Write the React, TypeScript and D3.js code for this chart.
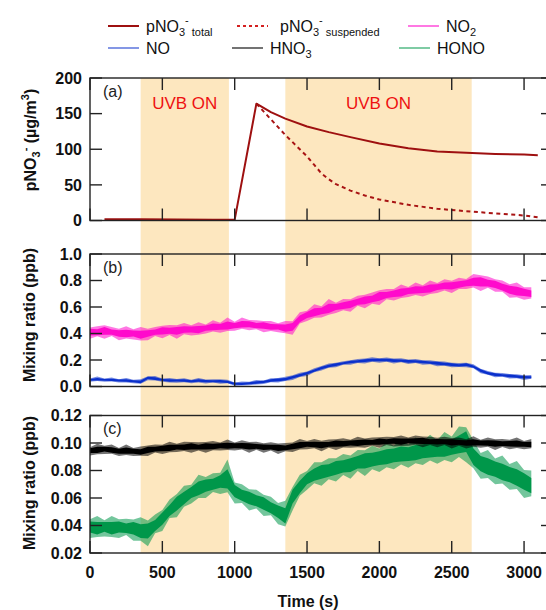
import React from "react";
import * as d3 from "d3";

// ---------- Panel (a): particulate nitrate (µg/m3) ----------
const pTotalTime = [100, 350, 600, 850, 1000, 1150, 1250, 1350, 1500, 1650, 1800, 2000, 2200, 2400, 2600, 2800, 3000, 3095];
const pTotalVal = [1.8, 1.6, 1.4, 1.2, 1.2, 164, 152, 143, 132, 124, 117, 108, 101.5, 97, 95, 93.5, 92.5, 91.5];
const pSuspTime = [1150, 1250, 1350, 1450, 1500, 1550, 1600, 1650, 1700, 1800, 1900, 2000, 2200, 2400, 2600, 2800, 3000, 3095];
const pSuspVal = [164, 142, 120, 100, 90, 78, 66, 58, 51, 42, 35, 29.5, 22, 16.5, 13, 10, 7, 4.5];

// ---------- Panels (b),(c): 50-s sampled traces (centre and noise spread) ----------
const traceTime = d3.range(0, 3051, 50);

const no2Mid = [
  0.41, 0.41, 0.42, 0.41, 0.40, 0.40, 0.40, 0.39, 0.40, 0.41,
  0.42, 0.42, 0.42, 0.43, 0.43, 0.43, 0.44, 0.45, 0.45, 0.46,
  0.46, 0.47, 0.47, 0.46, 0.46, 0.45, 0.45, 0.44, 0.45, 0.51,
  0.54, 0.56, 0.57, 0.59, 0.60, 0.61, 0.62, 0.64, 0.65, 0.66,
  0.68, 0.69, 0.70, 0.71, 0.72, 0.73, 0.73, 0.74, 0.75, 0.76,
  0.76, 0.77, 0.78, 0.79, 0.79, 0.78, 0.77, 0.75, 0.73, 0.72,
  0.71, 0.70];
const no2Spread = [
  0.05, 0.045, 0.06, 0.04, 0.05, 0.055, 0.045, 0.06, 0.05, 0.04,
  0.055, 0.045, 0.06, 0.05, 0.045, 0.055, 0.04, 0.05, 0.045, 0.06,
  0.04, 0.05, 0.045, 0.04, 0.05, 0.045, 0.04, 0.055, 0.06, 0.05,
  0.045, 0.06, 0.05, 0.07, 0.045, 0.05, 0.055, 0.045, 0.06, 0.05,
  0.065, 0.045, 0.05, 0.06, 0.045, 0.055, 0.05, 0.06, 0.045, 0.05,
  0.055, 0.05, 0.045, 0.06, 0.07, 0.05, 0.055, 0.05, 0.06, 0.065,
  0.055, 0.05];

const noMid = [
  0.05, 0.055, 0.05, 0.05, 0.045, 0.045, 0.04, 0.035, 0.065, 0.06,
  0.05, 0.045, 0.045, 0.045, 0.04, 0.045, 0.04, 0.04, 0.04, 0.035,
  0.02, 0.02, 0.025, 0.03, 0.035, 0.045, 0.05, 0.055, 0.07, 0.085,
  0.10, 0.12, 0.14, 0.155, 0.165, 0.175, 0.185, 0.19, 0.195, 0.20,
  0.20, 0.20, 0.195, 0.195, 0.19, 0.19, 0.185, 0.18, 0.175, 0.17,
  0.165, 0.16, 0.165, 0.15, 0.12, 0.10, 0.09, 0.085, 0.08, 0.075,
  0.07, 0.07];
const noSpread = [
  0.015, 0.02, 0.015, 0.018, 0.015, 0.02, 0.015, 0.02, 0.018, 0.02,
  0.015, 0.02, 0.016, 0.018, 0.015, 0.02, 0.017, 0.015, 0.02, 0.016,
  0.015, 0.018, 0.015, 0.02, 0.016, 0.018, 0.02, 0.018, 0.02, 0.018,
  0.02, 0.017, 0.02, 0.018, 0.02, 0.016, 0.02, 0.018, 0.022, 0.02,
  0.02, 0.018, 0.022, 0.018, 0.02, 0.017, 0.02, 0.018, 0.022, 0.018,
  0.02, 0.017, 0.02, 0.018, 0.02, 0.017, 0.02, 0.016, 0.02, 0.018,
  0.02, 0.016];

const hno3Mid = [
  0.0945, 0.095, 0.0955, 0.095, 0.094, 0.0945, 0.094, 0.0935, 0.095, 0.0955,
  0.096, 0.0965, 0.097, 0.097, 0.0975, 0.097, 0.0975, 0.0975, 0.098, 0.098,
  0.098, 0.098, 0.0975, 0.0975, 0.097, 0.097, 0.0965, 0.0965, 0.0975, 0.0985,
  0.099, 0.099, 0.0985, 0.099, 0.0995, 0.0995, 0.100, 0.100, 0.1005, 0.1005,
  0.101, 0.101, 0.1015, 0.101, 0.1015, 0.1015, 0.1015, 0.101, 0.101, 0.101,
  0.1005, 0.1005, 0.100, 0.1005, 0.100, 0.100, 0.0995, 0.0995, 0.0995, 0.0995,
  0.099, 0.099];
const hno3Spread = [
  0.0035, 0.0045, 0.0035, 0.004, 0.0035, 0.0045, 0.0035, 0.004, 0.0045, 0.0035,
  0.004, 0.0045, 0.0035, 0.004, 0.0045, 0.0035, 0.0045, 0.004, 0.0035, 0.0045,
  0.0035, 0.004, 0.0045, 0.0035, 0.004, 0.0035, 0.0045, 0.0035, 0.004, 0.0045,
  0.0035, 0.004, 0.0045, 0.0035, 0.0045, 0.004, 0.0035, 0.0045, 0.004, 0.0035,
  0.0045, 0.0035, 0.004, 0.0045, 0.0035, 0.004, 0.0045, 0.0035, 0.004, 0.0035,
  0.0045, 0.0035, 0.004, 0.0045, 0.0035, 0.004, 0.0045, 0.0035, 0.004, 0.0045,
  0.0035, 0.004];

const honoMid = [
  0.039, 0.038, 0.039, 0.038, 0.039, 0.038, 0.038, 0.036, 0.036, 0.040,
  0.045, 0.051, 0.056, 0.060, 0.064, 0.067, 0.069, 0.070, 0.072, 0.074,
  0.065, 0.062, 0.060, 0.058, 0.056, 0.053, 0.050, 0.047, 0.061, 0.068,
  0.074, 0.077, 0.079, 0.080, 0.082, 0.083, 0.084, 0.086, 0.087, 0.088,
  0.089, 0.090, 0.091, 0.092, 0.092, 0.093, 0.094, 0.095, 0.095, 0.096,
  0.097, 0.099, 0.101, 0.090, 0.085, 0.083, 0.081, 0.079, 0.077, 0.075,
  0.072, 0.069];
const honoSpread = [
  0.008, 0.009, 0.007, 0.009, 0.008, 0.007, 0.009, 0.01, 0.011, 0.008,
  0.009, 0.008, 0.01, 0.009, 0.008, 0.01, 0.009, 0.008, 0.009, 0.014,
  0.009, 0.008, 0.009, 0.008, 0.009, 0.008, 0.009, 0.011, 0.01, 0.009,
  0.008, 0.009, 0.01, 0.009, 0.01, 0.009, 0.01, 0.009, 0.011, 0.01,
  0.01, 0.011, 0.01, 0.011, 0.01, 0.011, 0.01, 0.011, 0.01, 0.012,
  0.011, 0.013, 0.015, 0.012, 0.011, 0.012, 0.011, 0.012, 0.011, 0.012,
  0.012, 0.011];

// ---------- Axes / annotations ----------
const uvbPeriods = [[350, 960], [1350, 2638]];
const xTicks = [0, 500, 1000, 1500, 2000, 2500, 3000];
const aTicks = [0, 50, 100, 150, 200];
const bTicks = [0, 0.2, 0.4, 0.6, 0.8, 1.0];
const cTicks = [0.02, 0.04, 0.06, 0.08, 0.10, 0.12];

const C = {
  red: "#9e1010",
  redDash: "#a81414",
  magenta: "#ff0acc",
  blue: "#0a30cc",
  black: "#000000",
  green: "#00974a",
  shade: "#fde7bf",
  axis: "#222",
};
const FONT = "Liberation Sans, Arial, sans-serif";

type Pt = { t: number; m: number; s: number; i: number };
const zip = (m: number[], s: number[]): Pt[] =>
  traceTime
    .map((t, i) => ({ t, m: m[i], s: s[i], i }))
    .filter((d) => d.m !== undefined && d.s !== undefined);

export default function App() {
  const x = d3.scaleLinear().domain([0, 3200]).range([90, 553]);
  const yA = d3.scaleLinear().domain([0, 200]).range([220.5, 78]);
  const yB = d3.scaleLinear().domain([0, 1]).range([386.5, 254]);
  const yC = d3.scaleLinear().domain([0.02, 0.12]).range([553, 415.5]);

  const trace = (y: d3.ScaleLinear<number, number>, m: number[], s: number[], color: string) => {
    const pts = zip(m, s);
    // outer envelope of the noisy trace (read extremes) and its dense core
    const outer =
      d3
        .area<Pt>()
        .x((d) => x(d.t))
        .y0((d) => y(d.m - d.s * (d.i % 2 === 0 ? 1 : 0.7)))
        .y1((d) => y(d.m + d.s * (d.i % 2 === 0 ? 0.7 : 1)))(pts) || "";
    const inner =
      d3
        .area<Pt>()
        .x((d) => x(d.t))
        .y0((d) => y(d.m - d.s * 0.5))
        .y1((d) => y(d.m + d.s * 0.5))(pts) || "";
    return (
      <g>
        <path d={outer} fill={color} opacity={0.55} />
        <path d={inner} fill={color} />
      </g>
    );
  };

  const lineA = d3
    .line<[number, number]>()
    .x((d) => x(d[0]))
    .y((d) => yA(d[1]));
  const totalPath = lineA(pTotalTime.map((t, i) => [t, pTotalVal[i]] as [number, number])) || "";
  const suspPath = lineA(pSuspTime.map((t, i) => [t, pSuspVal[i]] as [number, number])) || "";

  const x0 = x(0);
  const x1 = x(3200);
  const TL = 12;

  const frame = (
    y: d3.ScaleLinear<number, number>,
    ticks: number[],
    fmt: (v: number) => string,
    key: string
  ) => {
    const [yb, yt] = y.range();
    return (
      <g key={key}>
        <rect x={x0} y={yt} width={x1 - x0} height={yb - yt} fill="none" stroke={C.axis} strokeWidth={1.4} />
        {xTicks.map((t) => (
          <g key={"xt" + t}>
            <line x1={x(t)} x2={x(t)} y1={yb} y2={yb - TL} stroke={C.axis} strokeWidth={1.4} />
            <line x1={x(t)} x2={x(t)} y1={yt} y2={yt + TL} stroke={C.axis} strokeWidth={1.4} />
          </g>
        ))}
        {ticks.map((v) => (
          <g key={"yt" + v}>
            <line x1={x0} x2={x0 + TL} y1={y(v)} y2={y(v)} stroke={C.axis} strokeWidth={1.4} />
            <line x1={x1} x2={x1 - TL} y1={y(v)} y2={y(v)} stroke={C.axis} strokeWidth={1.4} />
            <text
              x={82}
              y={y(v)}
              dy="0.36em"
              textAnchor="end"
              fontFamily={FONT}
              fontWeight="bold"
              fontSize={16}
              fill="#111"
            >
              {fmt(v)}
            </text>
          </g>
        ))}
      </g>
    );
  };

  const fA = d3.format("d");
  const fB = d3.format(".1f");
  const fC = d3.format(".2f");

  const legendRow1 = 26;
  const legendRow2 = 48;

  return (
    <svg
      width={546}
      height={610}
      style={{ position: "absolute", left: 0, top: 0, background: "#fff" }}
      fontFamily={FONT}
    >
      <rect x={0} y={0} width={546} height={610} fill="#fff" />

      {/* UVB shading */}
      {uvbPeriods.map(([a, b], i) => (
        <rect key={"uv" + i} x={x(a)} y={yA(200)} width={x(b) - x(a)} height={yC(0.02) - yA(200)} fill={C.shade} />
      ))}
      {uvbPeriods.map(([a, b], i) => (
        <text
          key={"uvt" + i}
          x={(x(a) + x(b)) / 2}
          y={108.5}
          textAnchor="middle"
          fontSize={17}
          fill="#ee1111"
        >
          UVB ON
        </text>
      ))}

      {/* Panel (a) */}
      <path d={suspPath} fill="none" stroke={C.redDash} strokeWidth={2} strokeDasharray="4,3.5" />
      <path d={totalPath} fill="none" stroke={C.red} strokeWidth={2} strokeLinejoin="round" />

      {/* Panel (b) */}
      {trace(yB, no2Mid, no2Spread, C.magenta)}
      {trace(yB, noMid, noSpread, C.blue)}

      {/* Panel (c) */}
      {trace(yC, honoMid, honoSpread, C.green)}
      {trace(yC, hno3Mid, hno3Spread, C.black)}

      {frame(yA, aTicks, fA, "fa")}
      {frame(yB, bTicks, fB, "fb")}
      {frame(yC, cTicks, fC, "fc")}

      {/* panel labels */}
      <text x={103} y={yA(200) + 18.5} fontSize={16} fill="#222">(a)</text>
      <text x={103} y={yB(1) + 18.5} fontSize={16} fill="#222">(b)</text>
      <text x={103} y={yC(0.12) + 18.5} fontSize={16} fill="#222">(c)</text>

      {/* x tick labels */}
      {xTicks.map((t) => (
        <text key={"xl" + t} x={x(t)} y={577.5} textAnchor="middle" fontWeight="bold" fontSize={16} fill="#111">
          {t}
        </text>
      ))}
      <text x={308} y={606.5} textAnchor="middle" fontWeight="bold" fontSize={16} fill="#111">
        Time (s)
      </text>

      {/* y titles */}
      <text transform="translate(36,140) rotate(-90)" textAnchor="middle" fontWeight="bold" fontSize={16} fill="#111">
        <tspan>pNO</tspan>
        <tspan fontSize={11} dy={4}>3</tspan>
        <tspan fontSize={11} dy={-11}>-</tspan>
        <tspan dy={7}> (µg/m</tspan>
        <tspan fontSize={11} dy={-7}>3</tspan>
        <tspan dy={7}>)</tspan>
      </text>
      <text transform="translate(35,315) rotate(-90)" textAnchor="middle" fontWeight="bold" fontSize={16} fill="#111">
        Mixing ratio (ppb)
      </text>
      <text transform="translate(35,483) rotate(-90)" textAnchor="middle" fontWeight="bold" fontSize={16} fill="#111">
        Mixing ratio (ppb)
      </text>

      {/* legend */}
      <g fontSize={16} fill="#111">
        <line x1={108} x2={139} y1={legendRow1} y2={legendRow1} stroke={C.red} strokeWidth={2} />
        <text x={146} y={legendRow1 + 6}>
          <tspan>pNO</tspan>
          <tspan fontSize={11} dy={4}>3</tspan>
          <tspan fontSize={11} dy={-12}>-</tspan>
          <tspan fontSize={11} dy={12}> total</tspan>
        </text>

        <line x1={237} x2={268} y1={legendRow1} y2={legendRow1} stroke="#d42020" strokeWidth={2} strokeDasharray="3,3" />
        <text x={280} y={legendRow1 + 6}>
          <tspan>pNO</tspan>
          <tspan fontSize={11} dy={4}>3</tspan>
          <tspan fontSize={11} dy={-12}>-</tspan>
          <tspan fontSize={11} dy={12}> suspended</tspan>
        </text>

        <line x1={408} x2={439} y1={legendRow1} y2={legendRow1} stroke={C.magenta} strokeOpacity={0.55} strokeWidth={2} />
        <text x={446} y={legendRow1 + 6}>
          <tspan>NO</tspan>
          <tspan fontSize={11} dy={4}>2</tspan>
        </text>

        <line x1={108} x2={139} y1={legendRow2} y2={legendRow2} stroke={C.blue} strokeOpacity={0.5} strokeWidth={2} />
        <text x={146} y={legendRow2 + 6}>NO</text>

        <line x1={232} x2={263} y1={legendRow2} y2={legendRow2} stroke={C.black} strokeOpacity={0.55} strokeWidth={2} />
        <text x={270} y={legendRow2 + 6}>
          <tspan>HNO</tspan>
          <tspan fontSize={11} dy={4}>3</tspan>
        </text>

        <line x1={399} x2={430} y1={legendRow2} y2={legendRow2} stroke={C.green} strokeOpacity={0.5} strokeWidth={2} />
        <text x={437} y={legendRow2 + 6}>HONO</text>
      </g>
    </svg>
  );
}
